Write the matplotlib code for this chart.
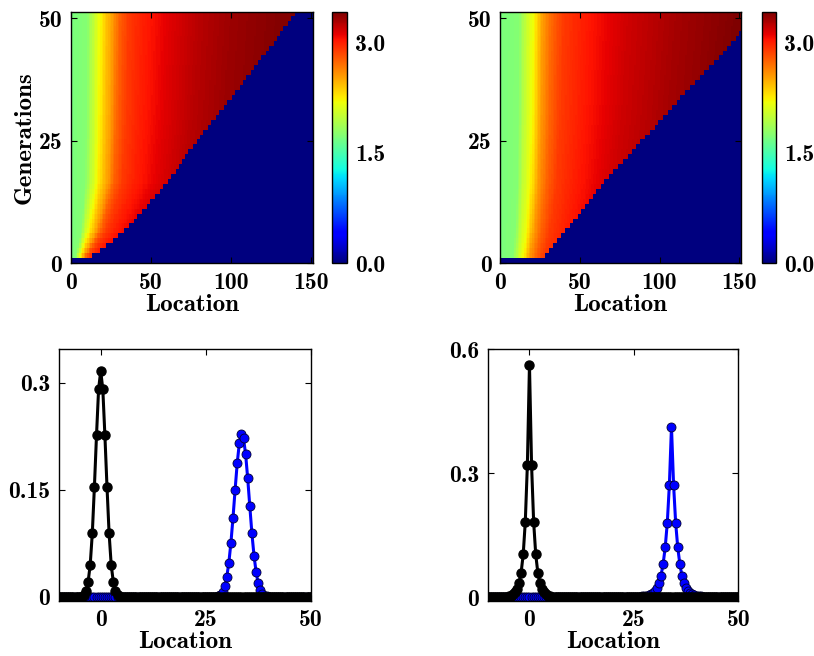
import numpy as np
import matplotlib
matplotlib.use("Agg")
import matplotlib.pyplot as plt

# bold Computer Modern shipped with matplotlib
plt.rcParams["font.family"] = ["cmb10", "DejaVu Serif"]
plt.rcParams["axes.unicode_minus"] = False
plt.rcParams["axes.linewidth"] = 1.0

W, H = 814, 656


def px_axes(fig, left, top, right, bottom):
    # axes placed by pixel box
    return fig.add_axes([left / W, (H - bottom) / H, (right - left) / W, (bottom - top) / H])


# ---- heatmaps: occupied front and value profile along location ----
front_gens = [1, 3, 6, 10, 13, 16, 20, 25, 30, 35, 40, 45, 50]
front_left = [13, 22, 33, 44, 52, 60, 69, 80, 92, 105, 116, 128, 139]
front_right = [28, 33, 41, 51, 58, 65, 77, 91, 105, 119, 134, 148, 158]

yellow_gens = [1, 6, 16, 30, 50]
yellow_left = [5.8, 11, 16, 17.2, 18]
yellow_right = [14.5, 16.5, 18.7, 20, 21]

profile_x_left = [0, 10, 14, 18, 22, 26, 30, 36, 45, 60, 80, 100, 130, 151]
profile_left = [1.7, 1.75, 2.0, 2.2, 2.4, 2.55, 2.75, 2.9, 3.0, 3.12, 3.25, 3.33, 3.4, 3.42]
profile_x_right = [0, 12, 16, 21, 27, 33, 40, 55, 80, 110, 151]
profile_right = [1.7, 1.75, 2.0, 2.2, 2.55, 2.75, 2.9, 3.02, 3.18, 3.3, 3.42]

cbar_ticks = [0.0, 1.5, 3.0]
vmax = 3.42

# ---- offspring distributions ----
loc = np.arange(-10, 50.5, 0.5)
black_left_start = -4.0
black_left = [0.003, 0.008, 0.021, 0.045, 0.089, 0.154, 0.226, 0.291, 0.316,
              0.291, 0.226, 0.154, 0.089, 0.045, 0.021, 0.008, 0.003]
blue_left_start = 28.0
blue_left = [0.0014, 0.0033, 0.0072, 0.0147, 0.0275, 0.0475, 0.0756, 0.111, 0.150,
             0.187, 0.215, 0.228, 0.222, 0.200, 0.166, 0.127, 0.089, 0.058, 0.035,
             0.019, 0.0097, 0.0045, 0.002, 0.0008]
black_right_start = -6.0
black_right = [0.0006, 0.0011, 0.002, 0.0035, 0.0062, 0.011, 0.019, 0.034, 0.059,
               0.103, 0.182, 0.32, 0.562, 0.32, 0.182, 0.103, 0.059, 0.034, 0.019,
               0.011, 0.0062, 0.0035, 0.002, 0.0011, 0.0006]
blue_right_start = 27.0
blue_right = [0.0013, 0.0019, 0.0029, 0.0044, 0.0066, 0.010, 0.015, 0.023, 0.035,
              0.052, 0.08, 0.12, 0.18, 0.272, 0.412, 0.272, 0.18, 0.12, 0.08, 0.052,
              0.035, 0.023, 0.015, 0.010, 0.0066, 0.0044, 0.0029, 0.0019, 0.0013]


def field(front_x, yellow_x, prof_x, prof_v):
    gens = np.arange(51)
    xs = np.arange(151) + 0.5
    front = np.interp(gens, front_gens, front_x)
    yel = np.interp(gens, yellow_gens, yellow_x)
    stretch = yellow_x[-1] / yel
    z = np.interp(xs[None, :] * stretch[:, None], prof_x, prof_v)
    z[xs[None, :] > front[:, None]] = 0.0
    z[0] = 0.0
    return z


def place(start, vals):
    y = np.zeros(loc.size)
    i = int(round((start - loc[0]) / 0.5))
    y[i:i + len(vals)] = vals
    return y


def style_ticks(ax):
    ax.tick_params(direction="in", top=True, right=True, length=4, width=0.8,
                   labelsize=17, pad=6)


fig = plt.figure(figsize=(W / 100, H / 100), dpi=100)

heat = [
    (field(front_left, yellow_left, profile_x_left, profile_left), 70.7, 313, 332.3),
    (field(front_right, yellow_right, profile_x_right, profile_right), 500, 741, 761.7),
]
for k, (z, left, right, cleft) in enumerate(heat):
    ax = px_axes(fig, left, 11.7, right, 263.3)
    im = ax.imshow(z, origin="lower", cmap="jet", vmin=0, vmax=vmax,
                   extent=(0, 151, 0, 51.3), aspect="auto", interpolation="nearest")
    ax.set_xlim(0, 151)
    ax.set_ylim(0, 51.3)
    ax.set_xticks([0, 50, 100, 150], ["0", "50", "100", "150"])
    ax.set_yticks([0, 25, 50], ["0", "25", "50"])
    style_ticks(ax)
    ax.set_xlabel("Location", fontsize=18, labelpad=0)
    if k == 0:
        ax.set_ylabel("Generations", fontsize=18, labelpad=2)
    cax = px_axes(fig, cleft, 11.7, cleft + 14.4, 263.3)
    cb = fig.colorbar(im, cax=cax, ticks=cbar_ticks)
    cb.ax.set_yticklabels(["%.1f" % t for t in cbar_ticks])
    cb.ax.tick_params(labelsize=17, length=0, pad=6)
    cb.outline.set_linewidth(1.0)

dists = [
    (place(black_left_start, black_left), place(blue_left_start, blue_left),
     58.7, 310.7, (-0.0056, 0.347), [0, 0.15, 0.3], ["0", "0.15", "0.3"]),
    (place(black_right_start, black_right), place(blue_right_start, blue_right),
     487.7, 738.3, (-0.0096, 0.6), [0, 0.3, 0.6], ["0", "0.3", "0.6"]),
]
for black, blue, left, right, ylim, yt, ytl in dists:
    ax = px_axes(fig, left, 349, right, 601)
    ax.plot(loc, blue, "-o", color="blue", lw=2.2, ms=6.5, mfc="blue", mec="#000033", mew=0.6)
    ax.plot(loc, black, "-o", color="black", lw=2.2, ms=6.5, mfc="black", mec="black")
    ax.set_xlim(-10, 50)
    ax.set_ylim(*ylim)
    ax.set_xticks([0, 25, 50], ["0", "25", "50"])
    ax.set_yticks(yt, ytl)
    style_ticks(ax)
    ax.set_xlabel("Location", fontsize=18, labelpad=0)

fig.savefig("out.png", dpi=100)
